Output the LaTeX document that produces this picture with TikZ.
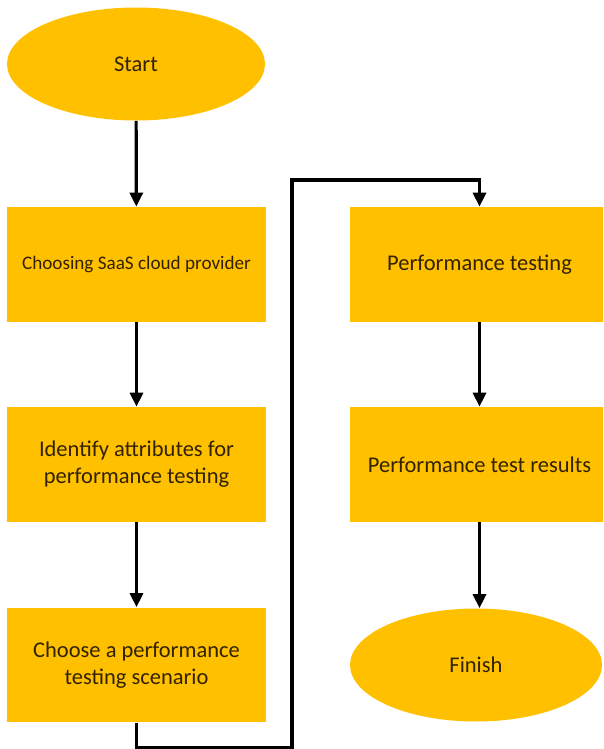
\documentclass[tikz,border=0pt]{standalone}
\usepackage{fontspec}
\setmainfont{Carlito}
\usetikzlibrary{shapes.geometric,arrows.meta}
\definecolor{boxgold}{RGB}{255,192,0}
\definecolor{boxtext}{RGB}{50,34,0}
\tikzset{
  stepbox/.style={rectangle, fill=boxgold, text=boxtext, minimum width=5.18cm, minimum height=2.3cm, inner sep=0pt, align=center, font=\fontsize{12.8}{15.5}\selectfont},
  terminal/.style={ellipse, fill=boxgold, text=boxtext, minimum width=5.16cm, minimum height=2.26cm, inner sep=0pt, font=\fontsize{12.8}{15.5}\selectfont},
  flow/.style={line width=1.8pt, -{Triangle[length=0.28cm,width=0.26cm]}}
}
\begin{document}
\begin{tikzpicture}[x=0.02cm,y=-0.02cm]
\useasboundingbox (0,0) rectangle (603,749);
\clip (0,0) rectangle (603,749);
\node[terminal] (start) at (136,64) {Start};
\node[stepbox, font=\fontsize{10.9}{13}\selectfont] (provider) at (136.5,264.5) {Choosing SaaS cloud provider};
\node[stepbox] (attributes) at (136.5,464.5) {Identify attributes for\\performance testing};
\node[stepbox] (scenario) at (136.5,665) {Choose a performance\\testing scenario};
\node[stepbox] (testing) at (479.5,264.5) {Performance testing};
\node[stepbox] (results) at (479.5,464.5) {Performance test results};
\node[terminal, minimum width=5.04cm] (finish) at (476,665) {Finish};
\coordinate (loop) at (292,180);
\draw[flow] (start) -- (provider);
\draw[flow] (provider) -- (attributes);
\draw[flow] (attributes) -- (scenario);
\draw[flow] (scenario.south) -- ++(0,25) -| (loop) -| (testing.north);
\draw[flow] (testing) -- (results);
\draw[flow] (results.south) -- (results.south |- finish.north);
\end{tikzpicture}
\end{document}
